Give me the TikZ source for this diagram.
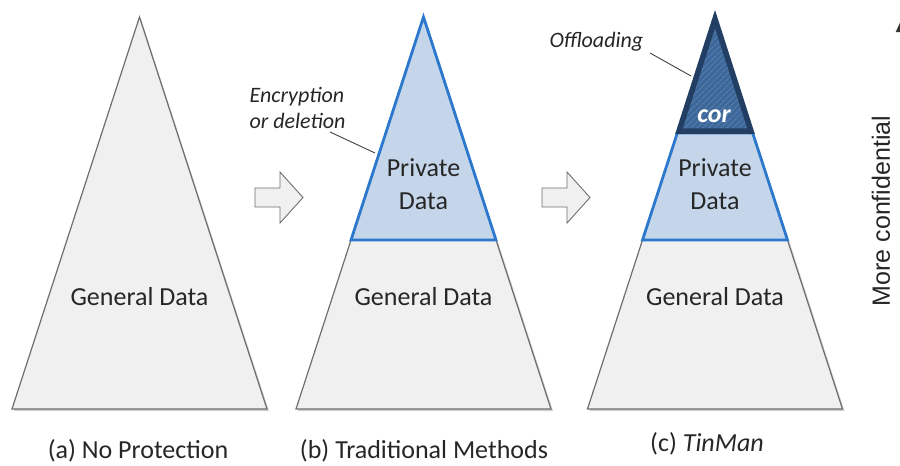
\documentclass[tikz,border=0pt]{standalone}
\usepackage{fontspec}
\setmainfont{Carlito}
\newfontfamily\arialf{Liberation Sans}
\usetikzlibrary{patterns.meta,arrows.meta}
\definecolor{gfill}{HTML}{F0F0F0}
\definecolor{gline}{HTML}{6E6E6E}
\definecolor{pfill}{HTML}{C5D6EA}
\definecolor{pline}{HTML}{2C78CC}
\definecolor{cfill}{HTML}{3D6899}
\definecolor{chatch}{HTML}{5A83B3}
\definecolor{cline}{HTML}{223F63}
\definecolor{lead}{HTML}{404040}
\tikzset{
  general/.style={fill=gfill,draw=gline,line width=1.2pt,line join=miter},
  shade/.style={fill=black!18,draw=none},
  private/.style={fill=pfill,draw=pline,line width=2.8pt,line join=miter},
  corfill/.style={fill=cfill},
  corhatch/.style={pattern={Lines[angle=45,distance=4pt,line width=0.8pt]},pattern color=chatch},
  corline/.style={draw=cline,line width=5.5pt,line join=miter},
  leader/.style={draw=lead,line width=0.9pt},
  bigtxt/.style={font=\fontsize{26}{33}\selectfont,align=center,text=black!85},
  notetxt/.style={font=\fontsize{22}{26}\selectfont\itshape,align=left,text=black!85},
  captxt/.style={font=\fontsize{26}{30}\selectfont,text=black!85},
  blockarrow/.style={fill=gfill,draw=gline,line width=0.9pt,line join=miter},
  pics/hollowarrow/.style={code={
    \path[blockarrow] (-24,-9.5) -- (1,-9.5) -- (1,-25.5) -- (24,0) -- (1,25.5) -- (1,9.5) -- (-24,9.5) -- cycle;
  }}
}
\begin{document}
\begin{tikzpicture}[x=1pt,y=-1pt]
\useasboundingbox (0,0) rectangle (900,466);
\clip (0,0) rectangle (900,466);

% (a) a single pyramid of general data
\path[shade] (141,19) -- (269,411) -- (14,411) -- cycle;
\path[general] (139.5,17) -- (267,409) -- (12,409) -- cycle;
\node[bigtxt] (ga) at (139.5,297) {General Data};

% step arrow between (a) and (b)
\pic (arr1) at (279,197.5) {hollowarrow};

% (b) general data with private data on top
\path[shade] (353,242) -- (498,242) -- (553,411) -- (298,411) -- cycle;
\path[general] (351,240) -- (496,240) -- (551,409) -- (296,409) -- cycle;
\path[private] (423.5,17) -- (496,240) -- (351,240) -- cycle;
\node[bigtxt] (gb) at (423.5,297) {General Data};
\node[bigtxt] (pb) at (423.5,184) {Private\\Data};
\node[notetxt,anchor=west] (enc) at (246,108) {Encryption\\or deletion};
\coordinate (encend) at (375,153);
\draw[leader] (330,132) -- (encend);

% step arrow between (b) and (c)
\pic (arr2) at (566,197.5) {hollowarrow};

% (c) general data, private data and the offloaded core
\path[shade] (644.5,242) -- (789.5,242) -- (844.5,411) -- (589.5,411) -- cycle;
\path[general] (642.5,240) -- (787.5,240) -- (842.5,409) -- (587.5,409) -- cycle;
\path[private] (677.3,133) -- (752.7,133) -- (787.5,240) -- (642.5,240) -- cycle;
\path[corfill] (715,17) -- (752.7,133) -- (677.3,133) -- cycle;
\path[corhatch] (715,17) -- (752.7,133) -- (677.3,133) -- cycle;
\path[corline] (715,19) -- (751,131) -- (679,131) -- cycle;
\node[bigtxt] (gc) at (715,297) {General Data};
\node[bigtxt] (pc) at (715,184) {Private\\Data};
\node[font=\fontsize{26}{30}\selectfont\bfseries\itshape,text=white] (cor) at (714,116) {cor};
\node[notetxt,anchor=west] (off) at (546,42) {Offloading};
\coordinate (offend) at (691,76);
\draw[leader] (650,53) -- (offend);

% confidentiality axis on the right
\node[font=\arialf\fontsize{25}{30}\selectfont,rotate=90,text=black!85] (conf) at (881,211) {More confidential};
\coordinate (axtop) at (903,16);
\coordinate (axbot) at (903,300);
\draw[line width=2pt,black!80,-{Triangle[length=16pt,width=14pt]}] (axbot) -- (axtop);

% captions
\node[captxt] (capa) at (138,451) {(a) No Protection};
\node[captxt] (capb) at (424,451) {(b) Traditional Methods};
\node[captxt] (capc) at (707,444) {(c) \textit{TinMan}};
\end{tikzpicture}
\end{document}
